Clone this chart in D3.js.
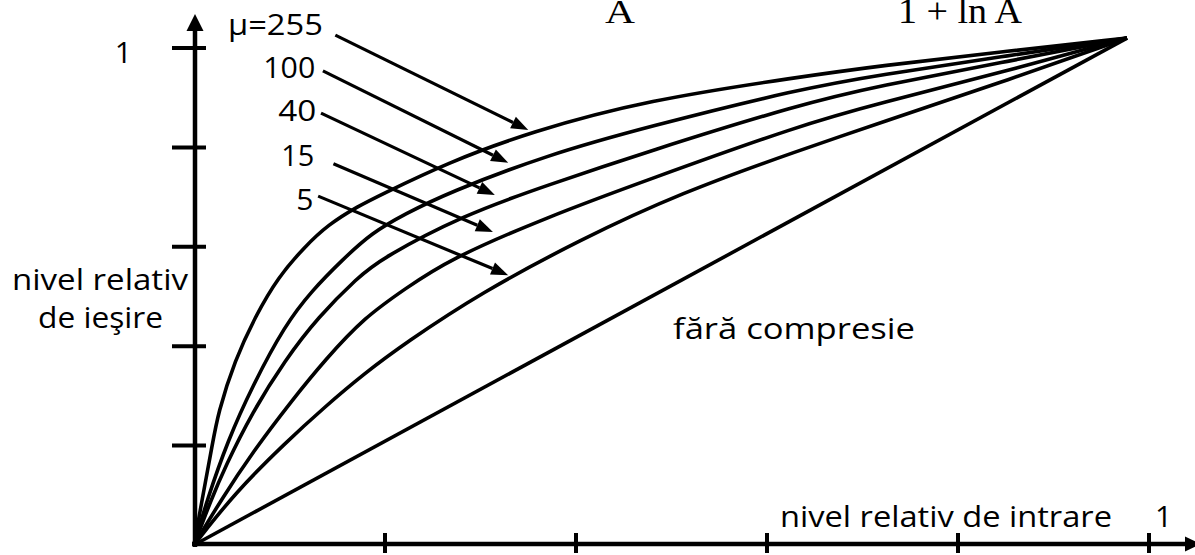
<!DOCTYPE html>
<html><head><meta charset="utf-8">
<script src="https://cdn.jsdelivr.net/npm/d3@7"></script>
<style>body{margin:0;background:#fff;overflow:hidden}svg{display:block}</style>
</head><body>
<svg id="chart" width="1195" height="555"></svg>
<script>
// ---- data (relative input level x, relative output level y) ----
const xTicks = [0.2, 0.4, 0.6, 0.8, 1];
const yTicks = [0.2, 0.4, 0.6, 0.8, 1];
const muValues = ["μ=255", "100", "40", "15", "5"];

const curveMu255 = [[0,0],[0.0084,0.0905],[0.0188,0.197],[0.0251,0.266],[0.0429,0.372],[0.0639,0.459],[0.088,0.539],[0.116,0.600],[0.140,0.644],[0.172,0.682],[0.195,0.704],[0.265,0.769],[0.352,0.831],[0.474,0.895],[0.635,0.942],[0.718,0.964],[0.844,0.992],[0.977,1.020]];
const curveMu100 = [[0,0],[0.0136,0.0905],[0.0356,0.211],[0.0607,0.318],[0.0953,0.443],[0.124,0.513],[0.155,0.573],[0.186,0.628],[0.221,0.666],[0.265,0.708],[0.370,0.785],[0.474,0.841],[0.635,0.918],[0.718,0.946],[0.844,0.982],[0.977,1.020]];
const curveMu40  = [[0,0],[0.0178,0.0905],[0.0325,0.157],[0.0607,0.266],[0.0953,0.372],[0.130,0.459],[0.172,0.539],[0.195,0.575],[0.282,0.664],[0.370,0.724],[0.474,0.791],[0.635,0.887],[0.718,0.924],[0.844,0.970],[0.977,1.020]];
const curveMu15  = [[0,0],[0.0283,0.0905],[0.0607,0.185],[0.103,0.292],[0.137,0.372],[0.179,0.459],[0.221,0.515],[0.265,0.573],[0.370,0.660],[0.474,0.734],[0.635,0.845],[0.718,0.889],[0.844,0.950],[0.977,1.020]];
const curveMu5   = [[0,0],[0.0429,0.105],[0.0953,0.205],[0.137,0.278],[0.179,0.346],[0.221,0.406],[0.300,0.507],[0.404,0.614],[0.509,0.708],[0.635,0.795],[0.718,0.849],[0.844,0.930],[0.977,1.020]];
const lineLinear = [[0,0],[0.977,1.020]];

// annotation arrows: label end / baseline, arrow start, arrow tip (data units)
const labelAt   = [[0.135,1.026],[0.127,0.940],[0.128,0.853],[0.126,0.763],[0.125,0.674]];
const arrowFrom = [[0.148,1.026],[0.135,0.954],[0.133,0.869],[0.146,0.767],[0.130,0.702]];
const arrowTo   = [[0.350,0.835],[0.329,0.769],[0.315,0.704],[0.313,0.630],[0.329,0.543]];

// ---- drawing ----
const svg = d3.select("#chart");
const x = d3.scaleLinear().domain([0, 1]).range([194, 1149]);
const y = d3.scaleLinear().domain([0, 1]).range([545, 48]);
const SANS = "'Open Sans', 'Noto Sans', sans-serif";
const SERIF = "'Liberation Serif', 'DejaVu Serif', serif";

function fitText(sel, w) {
  sel.attr("textLength", w).attr("lengthAdjust", "spacingAndGlyphs");
  return sel;
}

// top formula fragments (clipped by the top edge, as in the source picture)
fitText(svg.append("text").attr("x", 605).attr("y", 23).attr("font-family", SERIF)
  .attr("font-size", 34).text("A"), 30);
fitText(svg.append("text").attr("x", 898).attr("y", 23).attr("font-family", SERIF)
  .attr("font-size", 35).text("1 + ln A"), 124);

// axes
const x0 = x(0), y0 = y(0);
svg.append("line").attr("x1", x0 + 1).attr("x2", x0 + 1).attr("y1", y0 + 2).attr("y2", 28)
  .attr("stroke", "#000").attr("stroke-width", 4.5);
svg.append("path").attr("d", `M${x0+1},14 L${x0-7.5},31 L${x0+9.5},31 Z`).attr("fill", "#000");
svg.append("line").attr("x1", x0 - 2).attr("x2", 1188).attr("y1", y0 - 1).attr("y2", y0 - 1)
  .attr("stroke", "#000").attr("stroke-width", 4.5);
svg.append("path").attr("d", `M1201,${y0-1} L1185,${y0-8.5} L1185,${y0+6.5} Z`).attr("fill", "#000");

svg.selectAll(".ytick").data(yTicks).enter().append("line")
  .attr("x1", x0 - 22).attr("x2", x0 + 12)
  .attr("y1", d => y(d)).attr("y2", d => y(d))
  .attr("stroke", "#000").attr("stroke-width", 4);
svg.selectAll(".xtick").data(xTicks).enter().append("line")
  .attr("x1", d => x(d)).attr("x2", d => x(d))
  .attr("y1", y0 - 12).attr("y2", y0 + 8)
  .attr("stroke", "#000").attr("stroke-width", 4);

// curves
const line = d3.line().x(d => x(d[0])).y(d => y(d[1])).curve(d3.curveBasis);
[curveMu255, curveMu100, curveMu40, curveMu15, curveMu5, lineLinear].forEach(s => {
  svg.append("path").attr("d", line(s)).attr("fill", "none")
    .attr("stroke", "#000").attr("stroke-width", 3.6).attr("stroke-linejoin", "round");
});

// annotation arrows
arrowFrom.forEach((a, i) => {
  const b = arrowTo[i];
  const ax = x(a[0]), ay = y(a[1]), bx = x(b[0]), by = y(b[1]);
  const ang = Math.atan2(by - ay, bx - ax);
  const L = 17, W = 6.5;
  const cx = bx - L * Math.cos(ang), cy = by - L * Math.sin(ang);
  svg.append("line").attr("x1", ax).attr("y1", ay).attr("x2", cx).attr("y2", cy)
    .attr("stroke", "#000").attr("stroke-width", 3.2);
  const p1 = [cx + W * Math.sin(ang), cy - W * Math.cos(ang)];
  const p2 = [cx - W * Math.sin(ang), cy + W * Math.cos(ang)];
  svg.append("path").attr("d", `M${bx},${by} L${p1[0]},${p1[1]} L${p2[0]},${p2[1]} Z`).attr("fill", "#000");
});

// mu labels
const labelWidths = [95, 52, 38, 33, null];
muValues.forEach((t, i) => {
  const tx = svg.append("text").attr("x", x(labelAt[i][0])).attr("y", y(labelAt[i][1]))
    .attr("text-anchor", "end").attr("font-family", SANS).attr("font-size", 30).text(t);
  if (labelWidths[i]) fitText(tx, labelWidths[i]);
});

// axis numbers
svg.append("text").attr("x", x0 - 62).attr("y", y(1) + 15).attr("text-anchor", "end")
  .attr("font-family", SANS).attr("font-size", 30).text("1");
svg.append("text").attr("x", x(1) + 6).attr("y", y0 - 18)
  .attr("font-family", SANS).attr("font-size", 30).text("1");

// axis titles
fitText(svg.append("text").attr("x", 12).attr("y", 290).attr("font-family", SANS)
  .attr("font-size", 30).text("nivel relativ"), 176);
fitText(svg.append("text").attr("x", 38).attr("y", 328).attr("font-family", SANS)
  .attr("font-size", 30).text("de ieşire"), 125);
fitText(svg.append("text").attr("x", 780).attr("y", y0 - 18).attr("font-family", SANS)
  .attr("font-size", 30).text("nivel relativ de intrare"), 332);
fitText(svg.append("text").attr("x", 673).attr("y", 339).attr("font-family", SANS)
  .attr("font-size", 30).text("fără compresie"), 242);
</script>
</body></html>
